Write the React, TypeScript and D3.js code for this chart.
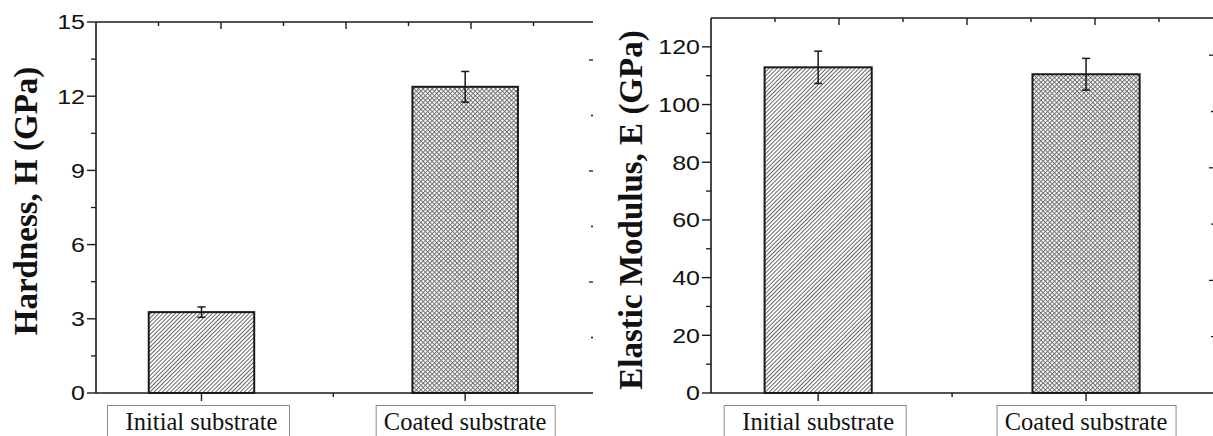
import React from "react";
import * as d3 from "d3";

const categories = ["Initial substrate", "Coated substrate"];
const hardness = [3.27, 12.38];
const hardnessErr = [0.21, 0.62];
const modulus = [112.9, 110.5];
const modulusErr = [5.6, 5.5];
const hardnessTicks = [0, 3, 6, 9, 12, 15];
const hardnessMinor = [1.5, 4.5, 7.5, 10.5, 13.5];
const modulusTicks = [0, 20, 40, 60, 80, 100, 120];
const modulusMinor = [10, 30, 50, 70, 90, 110];
const hardnessTitle = "Hardness, H (GPa)";
const modulusTitle = "Elastic Modulus, E (GPa)";
const patterns = ["hatch", "cross"];

const W = 1213;
const H = 436;

type PanelProps = {
  values: number[];
  errs: number[];
  yDomain: [number, number];
  yTop: number;
  xLeft: number;
  xRight: number;
  unit: number;
  ticks: number[];
  minor: number[];
  title: string;
  titleX: number;
  titleY: number;
  rightTickX: number;
  rightTickStep: number;
  topStep: number;
};

const BASE = 393;

function Panel(p: PanelProps) {
  const y = d3.scaleLinear().domain(p.yDomain).range([BASE, p.yTop]);
  const x = d3.scaleLinear().domain([0.6, 2.5]).range([p.xLeft, p.xLeft + 1.9 * p.unit]);
  const topScale = d3.scaleLinear().domain([0, 4]).range([p.xLeft, p.xLeft + 4 * p.topStep]);
  const topTicks = d3.range(0.5, 4.01, 0.5).filter((t) => topScale(t) <= p.xRight);
  const rightScale = d3.scaleLinear().domain([0, 1]).range([BASE, BASE - p.rightTickStep]);
  const rightTicks = d3.range(1, 7).map((k) => ({ y: rightScale(k), major: k % 2 === 0 }));
  const bw = 0.4 * p.unit;
  const boxOff = [
    [-94, 88],
    [-89, 90],
  ];
  const stroke = "#1a1a1a";
  return (
    <g>
      {p.values.map((v, i) => {
        const cx = x(i + 1);
        return (
          <g key={"b" + i}>
            <rect x={cx - bw / 2} y={y(v)} width={bw} height={BASE - y(v)} fill={`url(#${patterns[i]})`} stroke={stroke} strokeWidth={2} />
            <line x1={cx} x2={cx} y1={y(v + p.errs[i])} y2={y(v - p.errs[i])} stroke={stroke} strokeWidth={1.5} />
            <line x1={cx - 4} x2={cx + 4} y1={y(v + p.errs[i])} y2={y(v + p.errs[i])} stroke={stroke} strokeWidth={1.5} />
            <line x1={cx - 4} x2={cx + 4} y1={y(v - p.errs[i])} y2={y(v - p.errs[i])} stroke={stroke} strokeWidth={1.5} />
          </g>
        );
      })}
      <line x1={p.xLeft} x2={p.xLeft} y1={p.yTop} y2={BASE} stroke={stroke} strokeWidth={1.6} />
      <line x1={p.xLeft} x2={p.xRight} y1={BASE} y2={BASE} stroke={stroke} strokeWidth={1.6} />
      <line x1={p.xLeft} x2={p.xRight} y1={p.yTop} y2={p.yTop} stroke={stroke} strokeWidth={1.6} />
      {p.ticks.map((t) => (
        <g key={"t" + t}>
          <line x1={p.xLeft - 9} x2={p.xLeft} y1={y(t)} y2={y(t)} stroke={stroke} strokeWidth={1.4} />
          <text
            x={0}
            y={0}
            transform={`translate(${p.xLeft - 11},${y(t) + 7.3}) scale(1.22,1)`}
            textAnchor="end"
            fontFamily="'Liberation Sans', Arial, sans-serif"
            fontSize={20.5}
            fill="#111"
          >
            {t}
          </text>
        </g>
      ))}
      {p.minor.map((t) => (
        <line key={"m" + t} x1={p.xLeft - 5} x2={p.xLeft} y1={y(t)} y2={y(t)} stroke={stroke} strokeWidth={1.3} />
      ))}
      {topTicks.map((t) => (
        <line
          key={"tt" + t}
          x1={topScale(t)}
          x2={topScale(t)}
          y1={p.yTop}
          y2={p.yTop + (Number.isInteger(t) ? 7 : 4)}
          stroke={stroke}
          strokeWidth={1.4}
        />
      ))}
      {rightTicks.map((r, k) => (
        <line key={"r" + k} x1={p.rightTickX - (r.major ? 4 : 2)} x2={p.rightTickX} y1={r.y} y2={r.y} stroke={stroke} strokeWidth={1.3} />
      ))}
      {[1, 1.5, 2].map((t) => (
        <line key={"bt" + t} x1={x(t)} x2={x(t)} y1={BASE} y2={BASE + (Number.isInteger(t) ? 8 : 4)} stroke={stroke} strokeWidth={1.4} />
      ))}
      {categories.map((c, i) => {
        const cx = x(i + 1);
        return (
          <g key={"c" + i}>
            <rect x={cx + boxOff[i][0]} y={405.5} width={boxOff[i][1] - boxOff[i][0]} height={40} fill="#fff" stroke="#8a8a8a" strokeWidth={1} />
            <text x={cx} y={430} textAnchor="middle" fontFamily="'Liberation Serif', 'Times New Roman', serif" fontSize={24.5} fill="#111">
              {c}
            </text>
          </g>
        );
      })}
      <text
        transform={`translate(${p.titleX},${p.titleY}) rotate(-90)`}
        textAnchor="middle"
        fontFamily="'Liberation Serif', 'Times New Roman', serif"
        fontWeight="bold"
        fontSize={33}
        fill="#111"
      >
        {p.title}
      </text>
    </g>
  );
}

export default function App() {
  return (
    <svg width={W} height={H} style={{ position: "absolute", left: 0, top: 0, background: "#fff" }}>
      <defs>
        <pattern id="hatch" patternUnits="userSpaceOnUse" width={2.9} height={2.9} patternTransform="rotate(45)">
          <rect width={2.9} height={2.9} fill="#fff" />
          <line x1={0.5} y1={0} x2={0.5} y2={2.9} stroke="#555" strokeWidth={0.9} />
        </pattern>
        <pattern id="cross" patternUnits="userSpaceOnUse" width={3.2} height={3.2} patternTransform="rotate(45)">
          <rect width={3.2} height={3.2} fill="#fff" />
          <line x1={0.5} y1={0} x2={0.5} y2={3.2} stroke="#666" strokeWidth={0.9} />
          <line x1={0} y1={0.5} x2={3.2} y2={0.5} stroke="#666" strokeWidth={0.9} />
        </pattern>
      </defs>
      <Panel
        values={hardness}
        errs={hardnessErr}
        yDomain={[0, 15]}
        yTop={22}
        xLeft={96}
        xRight={593}
        unit={263.7}
        ticks={hardnessTicks}
        minor={hardnessMinor}
        title={hardnessTitle}
        titleX={37}
        titleY={201}
        rightTickX={593}
        rightTickStep={55.5}
        topStep={125}
      />
      <Panel
        values={modulus}
        errs={modulusErr}
        yDomain={[0, 130]}
        yTop={18}
        xLeft={711}
        xRight={1213}
        unit={267.9}
        ticks={modulusTicks}
        minor={modulusMinor}
        title={modulusTitle}
        titleX={642}
        titleY={210}
        rightTickX={1213}
        rightTickStep={56.3}
        topStep={128}
      />
    </svg>
  );
}
